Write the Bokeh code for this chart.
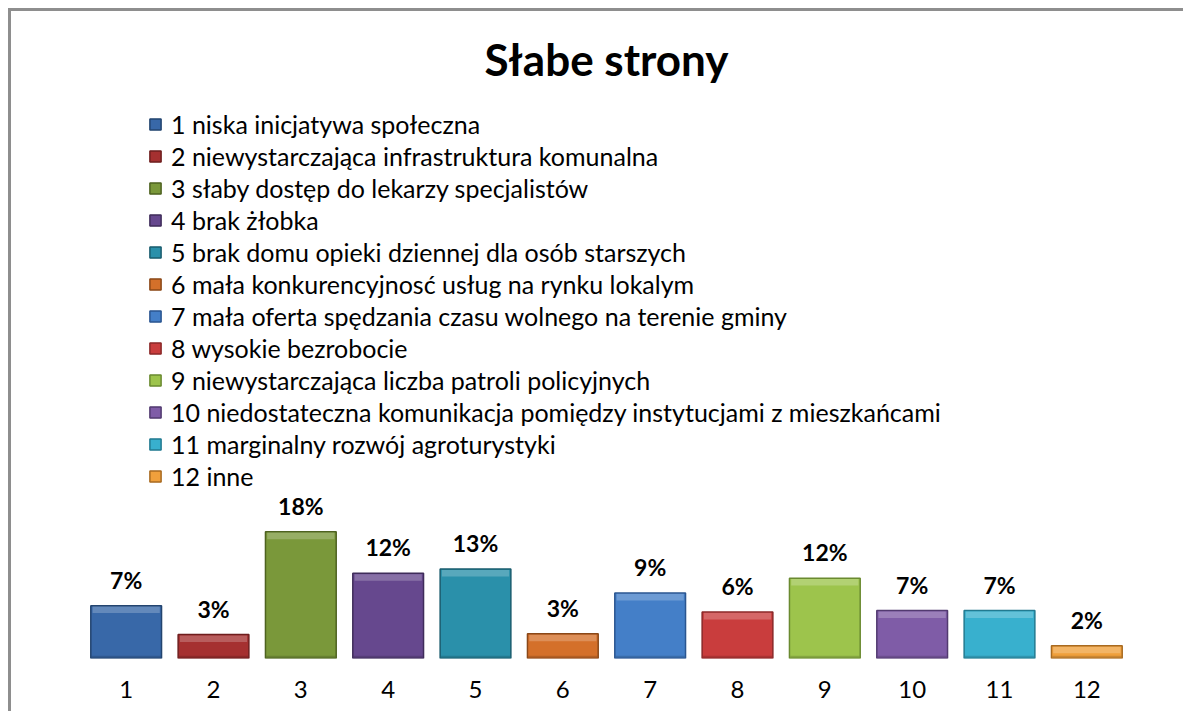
from bokeh.plotting import figure
from bokeh.models import ColumnDataSource, FactorRange, Range1d, LabelSet
from bokeh.core.properties import value
from bokeh.embed import file_html
from bokeh.resources import INLINE

categories = ["1", "2", "3", "4", "5", "6", "7", "8", "9", "10", "11", "12"]
legend_labels = [
    "1 niska inicjatywa społeczna",
    "2 niewystarczająca infrastruktura komunalna",
    "3 słaby dostęp do lekarzy specjalistów",
    "4 brak żłobka",
    "5 brak domu opieki dziennej dla osób starszych",
    "6 mała konkurencyjnosć usług na rynku lokalym",
    "7 mała oferta spędzania czasu wolnego na terenie gminy",
    "8 wysokie bezrobocie",
    "9 niewystarczająca liczba patroli policyjnych",
    "10 niedostateczna komunikacja pomiędzy instytucjami z mieszkańcami",
    "11 marginalny rozwój agroturystyki",
    "12 inne",
]
values = [7.5, 3.4, 18.0, 12.1, 12.7, 3.5, 9.3, 6.6, 11.4, 6.8, 6.8, 1.8]
value_labels = ["7%", "3%", "18%", "12%", "13%", "3%", "9%", "6%", "12%", "7%", "7%", "2%"]
colors = ["#3868A8", "#A53030", "#7A983A", "#66488E", "#2A90AA", "#D4702A",
          "#447FC8", "#C93D3D", "#9DC44C", "#7F5CA7", "#38B0CE", "#F0A03C"]
edge_colors = ["#23446F", "#6E1E1E", "#4E6220", "#3F2C5A", "#1A5C6E", "#8A4818",
               "#2A5590", "#8A2828", "#6A8A30", "#523A70", "#227A90", "#A86A20"]

# bevel decoration derived from the values
hl_top = [v - 0.12 for v in values]
hl_bottom = [v - 1.05 for v in values]

source = ColumnDataSource(dict(cat=categories, val=values, lab=value_labels,
                               leg=legend_labels, color=colors, edge=edge_colors,
                               hl_top=hl_top, hl_bottom=hl_bottom))

FONT = "Lato"

p = figure(x_range=FactorRange(*categories, range_padding=0),
           y_range=Range1d(0, 80.8),
           width=1175, height=703,
           min_border_left=71, min_border_right=56,
           min_border_top=78, min_border_bottom=56,
           output_backend="svg", toolbar_location=None,
           title="Słabe strony",
           styles={"border-top": "3px solid #8e8e8e", "border-left": "3px solid #8e8e8e",
                   "margin-left": "8px", "margin-top": "8px"})

p.vbar(x="cat", top="val", width=0.81, source=source,
       fill_color="color", line_color="edge", line_width=1.5,
       legend_field="leg")
# top highlight and bottom shade (bevel look)
p.vbar(x="cat", top="hl_top", bottom="hl_bottom", width=0.77, source=source,
       fill_color="white", fill_alpha=0.22, line_color=None)
p.vbar(x="cat", top=0.4, bottom=0.05, width=0.79, source=source,
       fill_color="black", fill_alpha=0.15, line_color=None)

labels = LabelSet(x="cat", y="val", text="lab", source=source,
                  text_align="center", text_baseline="alphabetic", y_offset=17,
                  text_font=value(FONT), text_font_style="bold", text_font_size="23px",
                  text_color="#000000")
p.add_layout(labels)

p.title.align = "center"
p.title.text_font = FONT
p.title.text_font_style = "bold"
p.title.text_font_size = "44px"
p.title.text_color = "#000000"
p.title.standoff = 10

p.yaxis.visible = False
p.xgrid.grid_line_color = None
p.ygrid.grid_line_color = None
p.outline_line_color = None
p.xaxis.axis_line_color = None
p.xaxis.major_tick_line_color = None
p.xaxis.minor_tick_line_color = None
p.xaxis.major_tick_out = 0
p.xaxis.major_tick_in = 0
p.xaxis.major_label_standoff = 22
p.xaxis.major_label_text_font = FONT
p.xaxis.major_label_text_font_size = "24px"
p.xaxis.major_label_text_color = "#000000"

leg = p.legend[0]
leg.location = (66, 167)
leg.margin = 0
leg.padding = 0
leg.spacing = 2
leg.glyph_width = 14
leg.glyph_height = 14
leg.label_height = 20
leg.label_standoff = 9
leg.label_text_font = FONT
leg.label_text_font_size = "25px"
leg.label_text_color = "#000000"
leg.border_line_color = None
leg.background_fill_alpha = 0

open("out.html", "w").write(file_html(p, INLINE))
